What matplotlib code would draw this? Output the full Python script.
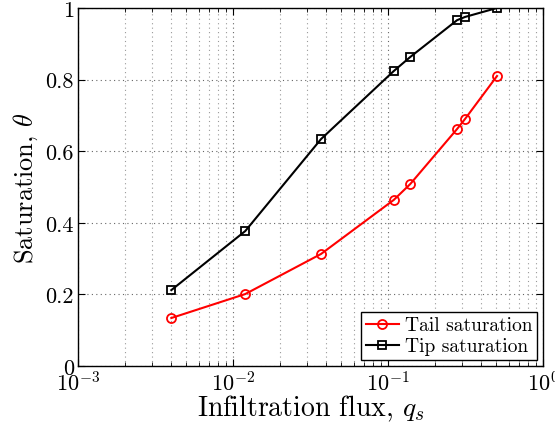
import matplotlib
matplotlib.use("Agg")
import matplotlib.pyplot as plt

flux = [0.004, 0.012, 0.037, 0.109, 0.139, 0.279, 0.314, 0.505]
tail_sat = [0.134, 0.201, 0.313, 0.464, 0.508, 0.662, 0.690, 0.810]
tip_sat = [0.212, 0.377, 0.634, 0.824, 0.863, 0.966, 0.975, 1.0]

plt.rcParams["font.family"] = "serif"
plt.rcParams["font.serif"] = ["cmr10"]
plt.rcParams["mathtext.fontset"] = "cm"
plt.rcParams["axes.formatter.use_mathtext"] = True

fig = plt.figure(figsize=(5.55, 4.27), dpi=100)
ax = fig.add_axes([78 / 555, 1 - 367 / 427, 465 / 555, 358 / 427])

ax.plot(flux, tail_sat, "-o", color="red", lw=1.5, ms=6.5, mfc="none",
        mew=1.3, label="Tail saturation")
ax.plot(flux, tip_sat, "-s", color="black", lw=1.5, ms=6, mfc="none",
        mew=1.3, label="Tip saturation")

ax.set_xscale("log")
ax.set_xlim(1e-3, 1)
ax.set_ylim(0, 1)
ax.set_yticks([0, 0.2, 0.4, 0.6, 0.8, 1])
ax.set_yticklabels(["0", "0.2", "0.4", "0.6", "0.8", "1"])

ax.grid(True, which="major", ls=(0, (1, 3)), color="#666666", lw=0.8)
ax.grid(True, which="minor", axis="x", ls=(0, (1, 3)), color="#999999", lw=0.8)
ax.tick_params(which="both", direction="in", top=True, right=True,
               labelsize=16, pad=3)
ax.tick_params(which="major", length=5)
ax.tick_params(which="minor", length=3)

ax.set_xlabel(r"Infiltration flux, $q_s$", fontsize=20, labelpad=-1)
ax.set_ylabel(r"Saturation, $\theta$", fontsize=19, labelpad=4)

leg = ax.legend(loc="lower right", fontsize=14, fancybox=False,
                edgecolor="black", framealpha=1, borderaxespad=0.3,
                handlelength=1.7, handletextpad=0.3, borderpad=0.25,
                labelspacing=0.15)
leg.get_frame().set_linewidth(1.0)

for s in ax.spines.values():
    s.set_linewidth(1.0)

fig.savefig("out.png", dpi=100)
plt.close(fig)
